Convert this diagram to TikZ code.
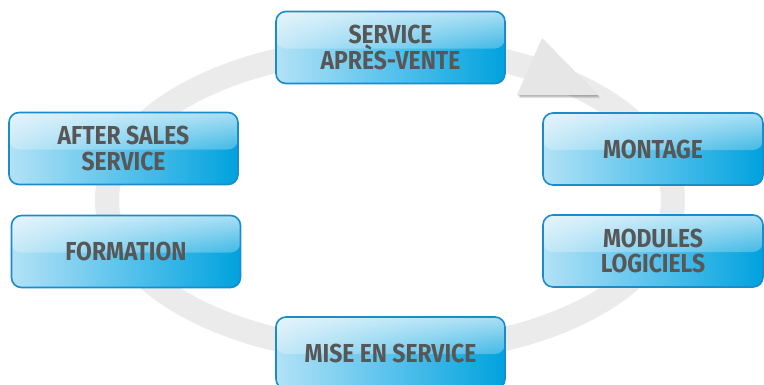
\documentclass[tikz,border=0pt]{standalone}
\usepackage{fontspec}
\setmainfont{Fira Sans}[FakeStretch=0.88]
\usetikzlibrary{fadings,calc}
\definecolor{ringgray}{HTML}{EBEBEB}
\definecolor{arrowgray}{HTML}{E6E6E6}
\definecolor{boxL}{HTML}{B3E2F6}
\definecolor{boxM}{HTML}{58C2EC}
\definecolor{boxR}{HTML}{00A2DE}
\definecolor{boxB}{HTML}{1A8CCB}
\definecolor{txt}{HTML}{575757}
\tikzset{
  box/.style={rectangle, rounded corners=10pt, draw=boxB, line width=1.6pt,
    left color=boxL, right color=boxR, middle color=boxM,
    minimum width=229pt, minimum height=72pt, inner sep=0pt, align=center,
    text=txt, font=\fontsize{26}{25.5}\selectfont\bfseries,
    path picture={
      \fill[white, fill opacity=0.25] (path picture bounding box.north west) rectangle ([yshift=-1pt]path picture bounding box.east);
      \fill[white, fill opacity=0.55, path fading=south] (path picture bounding box.north west) rectangle ([yshift=-1pt]path picture bounding box.east);
    }},
  narrowbox/.style={box, minimum width=220pt}
}
\begin{document}
\begin{tikzpicture}[x=1pt, y=-1pt]
\useasboundingbox (0,0) rectangle (764,384);
% ring
\draw[ringgray, line width=24pt] (390,200) ellipse [x radius=283pt, y radius=152pt];
% arrowhead with soft shadow
\foreach \s in {1,2,3,4}{
  \fill[black, opacity=0.09] ($(542,38)+(\s*0.6,\s*0.8)$) -- ($(598,95)+(\s*0.6,\s*0.8)$) -- ($(517,95)+(\s*0.6,\s*0.8)$) -- cycle;
}
\fill[arrowgray] (542,38) coordinate (ah1) -- (598,95) coordinate (ah2) -- (517,95) coordinate (ah3) -- cycle;
% boxes
\node[box] (sav) at (390.5,47.5) {SERVICE\\APRÈS-VENTE};
\node[box] (after) at (123.5,148.5) {AFTER SALES\\SERVICE};
\node[box] (formation) at (126,251.5) {FORMATION};
\node[narrowbox] (montage) at (653,149) {MONTAGE};
\node[narrowbox] (modules) at (653,251) {MODULES\\LOGICIELS};
\node[box] (mise) at (390.5,353) {MISE EN SERVICE};
\end{tikzpicture}
\end{document}
